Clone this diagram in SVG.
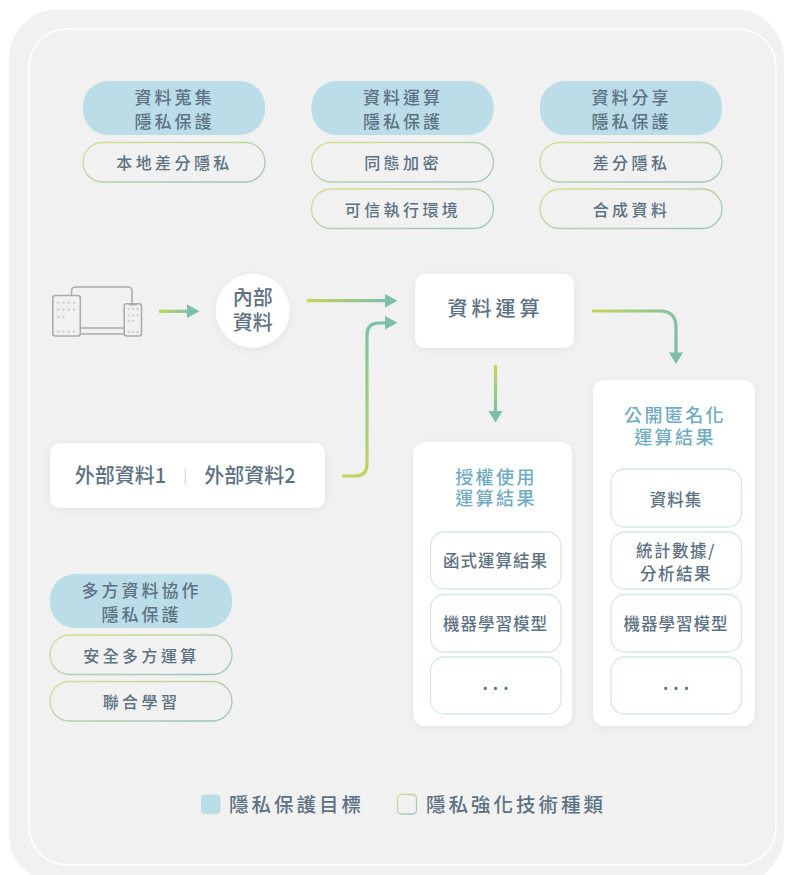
<svg xmlns="http://www.w3.org/2000/svg" width="785" height="875" viewBox="0 0 785 875">
<style>
text{font-family:"Noto Sans CJK TC","Noto Sans",sans-serif;font-weight:500;fill:#5d7183;text-anchor:middle}
.pt{font-size:17px;letter-spacing:3px}
.ot{font-size:16px;letter-spacing:3.4px}
.mt{font-size:20px}
.rt{font-size:18px;letter-spacing:2.4px;fill:#6fabc1}
.bt{font-size:16.5px;letter-spacing:1px}
.lg{font-size:19.5px;letter-spacing:3px;text-anchor:start}
.blue{fill:#bbdde7}
.out{fill:none;stroke:url(#og);stroke-width:1.3}
.card{fill:#fff;filter:url(#sh)}
.in{fill:#fff;stroke:#d6e6eb;stroke-width:1.3}
.ln{fill:none;stroke-width:3.2;stroke-linecap:butt}
.hd{fill:#7cbfa8}
.dev{fill:none;stroke:#acacac;stroke-width:1.6}
.dot{fill:#d2d2d2}
</style>
<defs>
<linearGradient id="og" x1="0" y1="0" x2="1" y2="1"><stop offset="0" stop-color="#d9e08e"/><stop offset="1" stop-color="#98c3c2"/></linearGradient>
<linearGradient id="gh" x1="0" y1="0" x2="1" y2="0"><stop offset="0" stop-color="#c4d659"/><stop offset="1" stop-color="#7cbfa8"/></linearGradient>
<linearGradient id="g1" gradientUnits="userSpaceOnUse" x1="159" y1="311" x2="190" y2="311"><stop offset="0" stop-color="#c4d659"/><stop offset="1" stop-color="#7cbfa8"/></linearGradient>
<linearGradient id="g2" gradientUnits="userSpaceOnUse" x1="307" y1="301" x2="388" y2="301"><stop offset="0" stop-color="#c4d659"/><stop offset="1" stop-color="#7cbfa8"/></linearGradient>
<linearGradient id="g3" gradientUnits="userSpaceOnUse" x1="342" y1="476" x2="388" y2="323"><stop offset="0" stop-color="#c4d659"/><stop offset="1" stop-color="#7cbfa8"/></linearGradient>
<linearGradient id="g4" gradientUnits="userSpaceOnUse" x1="592" y1="311" x2="676" y2="340"><stop offset="0" stop-color="#c4d659"/><stop offset="1" stop-color="#7cbfa8"/></linearGradient>
<linearGradient id="g5" gradientUnits="userSpaceOnUse" x1="495" y1="365" x2="495" y2="412"><stop offset="0" stop-color="#c4d659"/><stop offset="1" stop-color="#7cbfa8"/></linearGradient>
<filter id="sh" x="-15%" y="-15%" width="130%" height="130%"><feDropShadow dx="0" dy="2" stdDeviation="4" flood-color="#000" flood-opacity="0.05"/></filter>
</defs>

<g id="background">
<rect x="9" y="9" width="775" height="875" rx="50" fill="#f1f1f1"/>
<rect x="29" y="29" width="747" height="836" rx="38" fill="none" stroke="#fff" stroke-width="1.5"/>
</g>

<g id="group-collect">
<rect class="blue" x="83" y="81" width="182" height="54" rx="25"/>
<text class="pt" x="174.500" y="104">資料蒐集</text><text class="pt" x="174.500" y="128">隱私保護</text>
<rect class="out" x="83" y="142.500" width="182" height="39.500" rx="19.700"/>
<text class="ot" x="174.500" y="169">本地差分隱私</text>
</g>
<g id="group-compute">
<rect class="blue" x="311.500" y="81" width="182" height="54" rx="25"/>
<text class="pt" x="403" y="104">資料運算</text><text class="pt" x="403" y="128">隱私保護</text>
<rect class="out" x="311.500" y="142.500" width="182" height="39.500" rx="19.700"/>
<text class="ot" x="403" y="169">同態加密</text>
<rect class="out" x="311.500" y="189" width="182" height="39.500" rx="19.700"/>
<text class="ot" x="403" y="215.500">可信執行環境</text>
</g>
<g id="group-share">
<rect class="blue" x="540" y="81" width="182" height="54" rx="25"/>
<text class="pt" x="631.500" y="104">資料分享</text><text class="pt" x="631.500" y="128">隱私保護</text>
<rect class="out" x="540" y="142.500" width="182" height="39.500" rx="19.700"/>
<text class="ot" x="631.500" y="169">差分隱私</text>
<rect class="out" x="540" y="189" width="182" height="39.500" rx="19.700"/>
<text class="ot" x="631.500" y="215.500">合成資料</text>
</g>
<g id="group-multi">
<rect class="blue" x="50" y="574" width="182" height="54" rx="25"/>
<text class="pt" x="141.500" y="597">多方資料協作</text><text class="pt" x="141.500" y="621">隱私保護</text>
<rect class="out" x="50" y="635" width="182" height="39.500" rx="19.700"/>
<text class="ot" x="141.500" y="661.500">安全多方運算</text>
<rect class="out" x="50" y="681.500" width="182" height="39.500" rx="19.700"/>
<text class="ot" x="141.500" y="708">聯合學習</text>
</g>

<g id="devices">
<path class="dev" d="M71.500 295V291a4 4 0 0 1 4-4H128a4 4 0 0 1 4 4V303.500"/>
<path class="dev" d="M80 328H124M80 334H124"/>
<rect class="dev" x="52.800" y="295.500" width="27.500" height="40.500" rx="2.500" fill="#f1f1f1"/>
<rect class="dev" x="124.200" y="303.800" width="17.300" height="32.200" rx="2.500"/>
<path d="M129 304.500H137" stroke="#acacac" stroke-width="2"/>
<g class="dot">
<circle cx="58.300" cy="302.800" r="1.400"/><circle cx="63.300" cy="302.800" r="1.400"/><circle cx="68.600" cy="302.800" r="1.400"/><circle cx="74" cy="302.800" r="1.400"/>
<circle cx="58.300" cy="309.700" r="1.400"/><circle cx="63.300" cy="309.700" r="1.400"/><circle cx="68.600" cy="309.700" r="1.400"/><circle cx="74" cy="309.700" r="1.400"/>
<circle cx="58.300" cy="317" r="1.400"/><circle cx="63.300" cy="317" r="1.400"/>
<circle cx="58.300" cy="331.700" r="1.400"/><circle cx="63.300" cy="331.700" r="1.400"/><circle cx="68.600" cy="331.700" r="1.400"/><circle cx="74" cy="331.700" r="1.400"/>
<circle cx="128.700" cy="309" r="1.300"/><circle cx="133.200" cy="309" r="1.300"/><circle cx="137.500" cy="309" r="1.300"/>
<circle cx="128.700" cy="315.500" r="1.300"/><circle cx="133.200" cy="315.500" r="1.300"/><circle cx="137.500" cy="315.500" r="1.300"/>
<circle cx="128.700" cy="321" r="1.300"/><circle cx="133.200" cy="321" r="1.300"/>
<circle cx="128.700" cy="332" r="1.300"/><circle cx="133.200" cy="332" r="1.300"/><circle cx="137.500" cy="332" r="1.300"/>
</g>
</g>

<g id="internal-data">
<circle cx="252.700" cy="310.700" r="37" class="card"/>
<text class="mt" x="252.700" y="305">內部</text><text class="mt" x="252.700" y="330">資料</text>
</g>
<g id="compute">
<rect class="card" x="415" y="274" width="159" height="74" rx="10"/>
<text class="mt" x="495.500" y="316" style="letter-spacing:4px">資料運算</text>
</g>
<g id="external-data">
<rect class="card" x="50" y="443" width="275" height="65" rx="10"/>
<text class="mt" x="120.500" y="483">外部資料1</text>
<text class="mt" x="250" y="483">外部資料2</text>
<rect x="184.500" y="468" width="1.500" height="17" fill="#e2e2e2"/>
</g>
<g id="authorized-results">
<rect class="card" x="413" y="442" width="159" height="284" rx="12"/>
<text class="rt" x="496" y="483.500">授權使用</text><text class="rt" x="496" y="505">運算結果</text>
<rect class="in" x="430.500" y="532" width="130.500" height="57" rx="14"/>
<text class="bt" x="495.500" y="567">函式運算結果</text>
<rect class="in" x="430.500" y="594.500" width="130.500" height="57.500" rx="14"/>
<text class="bt" x="495.500" y="629.500">機器學習模型</text>
<rect class="in" x="430.500" y="657" width="130.500" height="57" rx="14"/>
<text class="bt" x="498" y="690" style="letter-spacing:5px;font-weight:700">...</text>
</g>
<g id="public-results">
<rect class="card" x="593" y="380" width="162" height="346" rx="12"/>
<text class="rt" x="675" y="421.500">公開匿名化</text><text class="rt" x="675" y="443.500">運算結果</text>
<rect class="in" x="611" y="469" width="130.500" height="58" rx="14"/>
<text class="bt" x="676" y="506">資料集</text>
<rect class="in" x="611" y="532" width="130.500" height="57" rx="14"/>
<text class="bt" x="676" y="557" style="letter-spacing:1.500px">統計數據/</text><text class="bt" x="676" y="579.500" style="letter-spacing:1.500px">分析結果</text>
<rect class="in" x="611" y="594.500" width="130.500" height="57.500" rx="14"/>
<text class="bt" x="676" y="629.500">機器學習模型</text>
<rect class="in" x="611" y="657" width="130.500" height="57" rx="14"/>
<text class="bt" x="678.500" y="690" style="letter-spacing:5px;font-weight:700">...</text>
</g>

<g id="connectors">
<path class="ln" stroke="url(#g1)" d="M159 311.300H189"/>
<path class="hd" d="M187 304.500L199.500 311.300L187 318Z"/>
<path class="ln" stroke="url(#g2)" d="M307 300.700H388"/>
<path class="hd" d="M385 294L397.500 300.700L385 307.500Z"/>
<path class="ln" stroke="url(#g3)" d="M342 476H355Q367 476 367 464V335Q367 323 379 323H388"/>
<path class="hd" d="M385 316L397.500 322.800L385 329.500Z"/>
<path class="ln" stroke="url(#g4)" d="M592 311H660Q676 311 676 327V355"/>
<path class="hd" d="M669 352.500L676 364L683 352.500Z"/>
<path class="ln" stroke="url(#g5)" d="M495.500 365V413"/>
<path class="hd" d="M488.500 411L495.500 422.500L502.500 411Z"/>
</g>

<g id="legend">
<rect class="blue" x="201" y="794.500" width="19.500" height="19.500" rx="4"/>
<text class="lg" x="229" y="812">隱私保護目標</text>
<rect class="out" x="397.500" y="794.500" width="19" height="19.500" rx="4"/>
<text class="lg" x="426" y="812">隱私強化技術種類</text>
</g>
</svg>
